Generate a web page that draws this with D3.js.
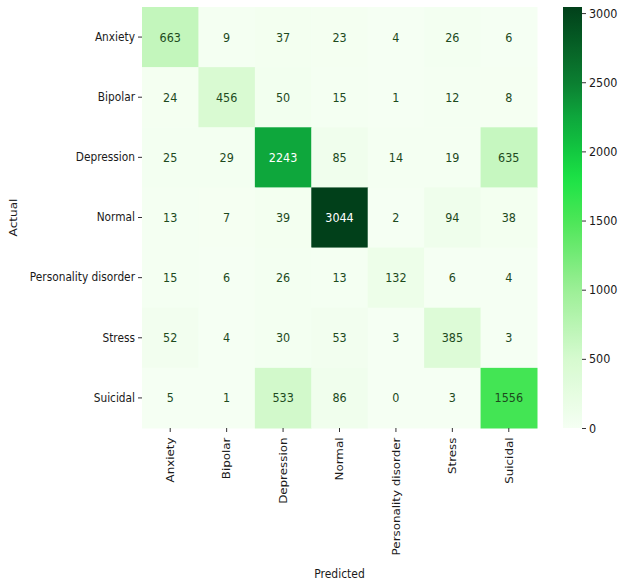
<!DOCTYPE html>
<html lang="en">
<head>
  <meta charset="UTF-8">
  <title>Confusion Matrix</title>
  <script src="https://d3js.org/d3.v7.min.js"></script>
  <style>
    body { margin: 0; background: #fff; }
    svg text { font-family: "DejaVu Sans", sans-serif; }
  </style>
</head>
<body>
  <svg width="624" height="586"></svg>

  <script>
    const classes = ["Anxiety", "Bipolar", "Depression", "Normal", "Personality disorder", "Stress", "Suicidal"];

    // rows = actual, columns = predicted
    const anxietyRow     = [663, 9, 37, 23, 4, 26, 6];
    const bipolarRow     = [24, 456, 50, 15, 1, 12, 8];
    const depressionRow  = [25, 29, 2243, 85, 14, 19, 635];
    const normalRow      = [13, 7, 39, 3044, 2, 94, 38];
    const personalityRow = [15, 6, 26, 13, 132, 6, 4];
    const stressRow      = [52, 4, 30, 53, 3, 385, 3];
    const suicidalRow    = [5, 1, 533, 86, 0, 3, 1556];

    const colorbarTicks = [0, 500, 1000, 1500, 2000, 2500, 3000];

    const rows = [anxietyRow, bipolarRow, depressionRow, normalRow, personalityRow, stressRow, suicidalRow];
    const cells = [];
    rows.forEach((r, i) => r.forEach((v, j) => cells.push({ actual: classes[i], predicted: classes[j], value: v })));

    const vmax = d3.max(cells, d => d.value);

    const svg = d3.select("svg");
    const mapLeft = 142, mapTop = 7, mapW = 395, mapH = 421;
    const sy = 1.12; // the picture's text is a little taller than wide

    const x = d3.scaleBand().domain(classes).range([mapLeft, mapLeft + mapW]);
    const y = d3.scaleBand().domain(classes).range([mapTop, mapTop + mapH]);

    // custom green map
    const color = d3.scaleLinear()
      .domain([0, 500, 1000, 1500, 1800, 2000, 2250, 2500, vmax])
      .range(["#f5fff3", "#d6facf", "#9cef96", "#4ce657", "#1ce346", "#12c840", "#0ea63c", "#0b7e31", "#01401a"])
      .clamp(true);

    svg.append("g")
      .selectAll("rect")
      .data(cells)
      .join("rect")
      .attr("x", d => x(d.predicted))
      .attr("y", d => y(d.actual))
      .attr("width", x.bandwidth() + 0.5)
      .attr("height", y.bandwidth() + 0.5)
      .attr("fill", d => color(d.value));

    // annotations
    svg.append("g")
      .selectAll("text")
      .data(cells)
      .join("text")
      .attr("transform", d => `translate(${x(d.predicted) + x.bandwidth() / 2},${y(d.actual) + y.bandwidth() / 2}) scale(1,${sy})`)
      .attr("dy", "0.36em")
      .attr("text-anchor", "middle")
      .style("font-size", "11.2px")
      .attr("fill", d => d.value > 1900 ? "#ffffff" : "#1d4a1d")
      .text(d => d.value);

    // y axis
    const yAxis = svg.append("g")
      .attr("transform", `translate(${mapLeft},0)`)
      .call(d3.axisLeft(y).tickSize(4).tickPadding(3));
    yAxis.select(".domain").remove();
    yAxis.selectAll("line").attr("stroke", "#333");
    yAxis.selectAll("text")
      .style("font-size", "10.6px")
      .attr("fill", "#1a1a1a")
      .attr("transform", `scale(1,${sy})`);

    // x axis
    const xAxis = svg.append("g")
      .attr("transform", `translate(0,${mapTop + mapH})`)
      .call(d3.axisBottom(x).tickSize(4).tickPadding(3));
    xAxis.select(".domain").remove();
    xAxis.selectAll("line").attr("stroke", "#333");
    xAxis.selectAll("text")
      .style("font-size", "10.6px")
      .attr("fill", "#1a1a1a")
      .attr("transform", `scale(1,${sy}) rotate(-90)`)
      .attr("text-anchor", "end")
      .attr("x", -8.5)
      .attr("y", 0)
      .attr("dy", "0.35em");

    // axis titles
    svg.append("text")
      .attr("transform", `translate(${mapLeft + mapW / 2},578) scale(1,${sy})`)
      .attr("text-anchor", "middle")
      .style("font-size", "10.8px")
      .attr("fill", "#1a1a1a")
      .text("Predicted");

    svg.append("text")
      .attr("transform", `translate(17,${mapTop + mapH / 2}) scale(1,${sy}) rotate(-90)`)
      .attr("text-anchor", "middle")
      .style("font-size", "10.8px")
      .attr("fill", "#1a1a1a")
      .text("Actual");

    // colour bar
    const cbX = 563, cbW = 19;
    const cy = d3.scaleLinear().domain([0, vmax]).range([mapTop + mapH, mapTop]);

    const grad = svg.append("defs").append("linearGradient")
      .attr("id", "cbgrad")
      .attr("x1", 0).attr("y1", 1).attr("x2", 0).attr("y2", 0);
    d3.range(0, 1.0001, 0.02).forEach(t => {
      grad.append("stop").attr("offset", t).attr("stop-color", color(t * vmax));
    });

    svg.append("rect")
      .attr("x", cbX)
      .attr("y", mapTop)
      .attr("width", cbW)
      .attr("height", mapH)
      .attr("fill", "url(#cbgrad)");

    const cAxis = svg.append("g")
      .attr("transform", `translate(${cbX + cbW},0)`)
      .call(d3.axisRight(cy).tickValues(colorbarTicks).tickFormat(d3.format("d")).tickSize(4).tickPadding(3));
    cAxis.select(".domain").remove();
    cAxis.selectAll("line").attr("stroke", "#333");
    cAxis.selectAll("text")
      .style("font-size", "11.2px")
      .attr("fill", "#1a1a1a")
      .attr("transform", `scale(1,${sy})`);
  </script>
</body>
</html>
